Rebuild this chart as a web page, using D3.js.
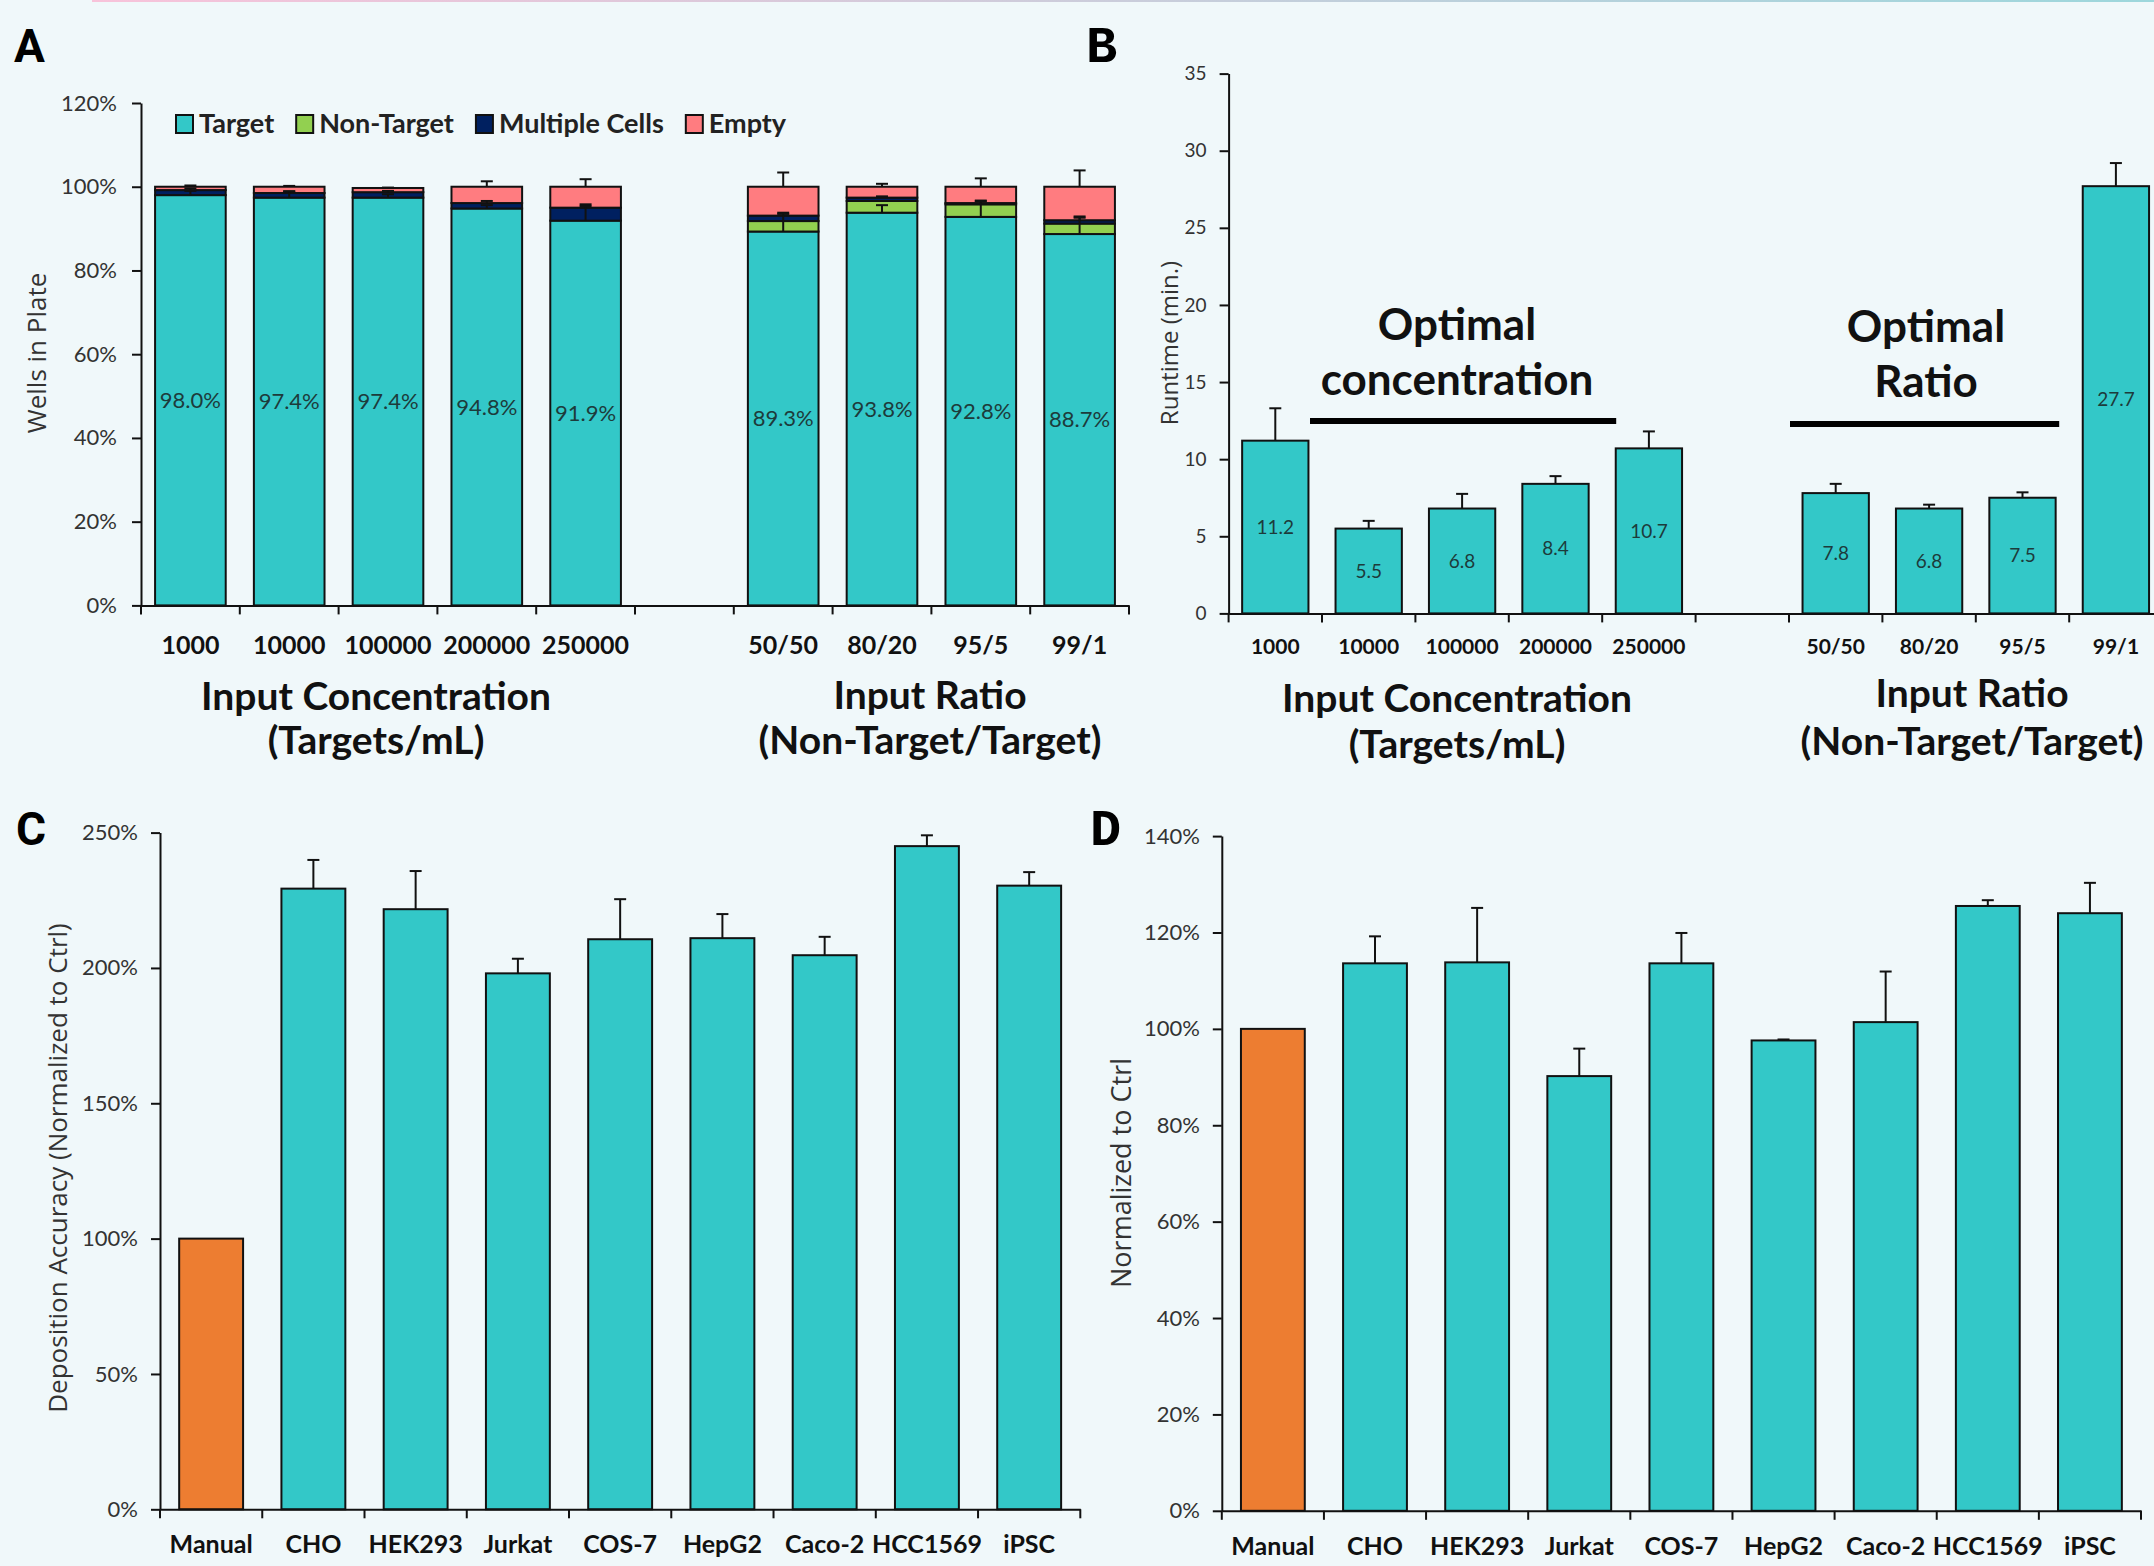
<!DOCTYPE html>
<html lang="en">
<head>
<meta charset="utf-8">
<script src="https://d3js.org/d3.v7.min.js"></script>
<title>Cell deposition panels</title>
<style>
  body { margin: 0; padding: 0; background: #f0f8fa; }
  svg { display: block; }
  text { font-family: Lato, "Open Sans", sans-serif; }
  .axis path, .axis line { stroke: #111; stroke-width: 2; }
  .axis text { font-family: Lato, "Open Sans", sans-serif; }
  .ytitle { font-family: "Open Sans", sans-serif; fill: #333; }
</style>
</head>
<body>
<svg id="chart" width="2154" height="1566"></svg>
<script>
// ---------- data ----------
var concLabels  = ["1000", "10000", "100000", "200000", "250000"];
var ratioLabels = ["50/50", "80/20", "95/5", "99/1"];

// panel A (% of wells), concentration bars then ratio bars
var targetPct    = [98.0, 97.4, 97.4, 94.8, 91.9, 89.3, 93.8, 92.8, 88.7];
var nonTargetPct = [0, 0, 0, 0, 0, 2.5, 2.8, 3.0, 2.5];
var multiplePct  = [1.2, 1.1, 1.3, 1.3, 3.1, 1.3, 0.8, 0.3, 0.8];
var emptyPct     = [0.8, 1.5, 1.0, 3.9, 5.0, 6.9, 2.6, 3.9, 8.0];
var targetErr    = [1.0, 1.5, 0.8, 0.8, 3.5, 4.5, 1.8, 3.9, 4.2];
var multipleErr  = [0.4, 0.4, 0.3, 0.5, 0.8, 0.4, 0.3, 0.4, 0.6];
var emptyErr     = [0.3, 0.2, 0.1, 1.3, 1.8, 3.4, 0.7, 2.0, 3.9];

// panel B runtime (min.)
var runtime    = [11.2, 5.5, 6.8, 8.4, 10.7, 7.8, 6.8, 7.5, 27.7];
var runtimeErr = [2.1, 0.5, 0.95, 0.5, 1.1, 0.6, 0.25, 0.35, 1.5];

// panels C and D
var cellLines     = ["Manual", "CHO", "HEK293", "Jurkat", "COS-7", "HepG2", "Caco-2", "HCC1569", "iPSC"];
var accuracy      = [100, 229.3, 221.7, 198.0, 210.6, 211.0, 204.7, 245.0, 230.4];
var accuracyErr   = [0, 10.6, 14.1, 5.4, 14.8, 8.9, 6.8, 4.0, 5.0];
var normalized    = [100, 113.6, 113.8, 90.2, 113.6, 97.6, 101.4, 125.5, 124.0];
var normalizedErr = [0, 5.6, 11.3, 5.7, 6.3, 0.2, 10.5, 1.2, 6.3];

var ticksA = [0, 20, 40, 60, 80, 100, 120];
var ticksB = [0, 5, 10, 15, 20, 25, 30, 35];
var ticksC = [0, 50, 100, 150, 200, 250];
var ticksD = [0, 20, 40, 60, 80, 100, 120, 140];

var teal = "#33c8c8", orange = "#ed7d31";
var segColors = { target: teal, nonTarget: "#92d050", multiple: "#002060", empty: "#ff7c80" };
var legendNames = { target: "Target", nonTarget: "Non-Target", multiple: "Multiple Cells", empty: "Empty" };

var pct = function (d) { return d + "%"; };

// ---------- svg ----------
var svg = d3.select("#chart");

// thin ribbon at the top edge
var grad = svg.append("defs").append("linearGradient").attr("id", "ribbon");
grad.append("stop").attr("offset", "0%").attr("stop-color", "#f8c3da");
grad.append("stop").attr("offset", "100%").attr("stop-color", "#9dd7dc");
svg.append("rect").attr("x", 92).attr("y", 0).attr("width", 2062).attr("height", 2).attr("fill", "url(#ribbon)");

function drawAxes(g, slot, y, ticks, fmt, o) {
    var yAxis = g.append("g").attr("class", "axis")
        .attr("transform", "translate(" + slot.range()[0] + ",0)")
        .call(d3.axisLeft(y).tickValues(ticks).tickFormat(fmt)
            .tickSizeInner(9).tickSizeOuter(0).tickPadding(o.yPad));
    yAxis.selectAll("text").style("font-size", o.yFont + "px").attr("fill", "#333");

    var xAxis = g.append("g").attr("class", "axis")
        .attr("transform", "translate(0," + y(0) + ")")
        .call(d3.axisBottom(slot).tickSizeInner(0).tickSizeOuter(0)
            .tickFormat(function (d) { return d === "gap" ? "" : d; }));
    xAxis.selectAll("text").attr("y", o.xLabelY).attr("dy", null)
        .style("font-size", o.xFont + "px").style("font-weight", "bold").attr("fill", "#111");

    // tick marks sit on the category boundaries
    var edges = slot.domain().map(function (c) { return slot(c); }).concat([slot.range()[1]]);
    xAxis.selectAll("line.edge").data(edges).enter().append("line")
        .attr("class", "edge")
        .attr("x1", function (d) { return d; }).attr("x2", function (d) { return d; })
        .attr("y1", 0).attr("y2", 9);
}

function errorBars(g, list) {
    // list: {cx, y0, y1}
    var eb = g.append("g").attr("stroke", "#111").attr("stroke-width", 2);
    eb.selectAll("line.v").data(list).enter().append("line")
        .attr("x1", function (d) { return d.cx; }).attr("x2", function (d) { return d.cx; })
        .attr("y1", function (d) { return d.y0; }).attr("y2", function (d) { return d.y1; });
    eb.selectAll("line.h").data(list).enter().append("line")
        .attr("x1", function (d) { return d.cx - 6; }).attr("x2", function (d) { return d.cx + 6; })
        .attr("y1", function (d) { return d.y1; }).attr("y2", function (d) { return d.y1; });
}

function panelLetter(txt, x, y, family, size) {
    svg.append("text").attr("x", x).attr("y", y).text(txt)
        .style("font-family", family).style("font-weight", "bold")
        .style("font-size", size + "px").attr("fill", "#000");
}

function yTitle(txt, cx, cy, size) {
    svg.append("text").attr("class", "ytitle")
        .attr("transform", "translate(" + cx + "," + cy + ") rotate(-90)")
        .attr("text-anchor", "middle").attr("dominant-baseline", "central")
        .style("font-size", size + "px").text(txt);
}

function bigTitle(lines, cx, ys, size) {
    lines.forEach(function (t, i) {
        svg.append("text").attr("x", cx).attr("y", ys[i]).attr("text-anchor", "middle")
            .style("font-size", size + "px").style("font-weight", "bold").attr("fill", "#111").text(t);
    });
}

// ---------- panel A ----------
(function () {
    var cats = concLabels.concat(ratioLabels);
    var rows = cats.map(function (c, i) {
        return { cat: c, target: targetPct[i], nonTarget: nonTargetPct[i], multiple: multiplePct[i], empty: emptyPct[i],
                 tErr: targetErr[i], mErr: multipleErr[i], eErr: emptyErr[i] };
    });
    var keys = ["target", "nonTarget", "multiple", "empty"];
    var slot = d3.scaleBand().domain(concLabels.concat(["gap"], ratioLabels)).range([141, 1129]);
    var y = d3.scaleLinear().domain([0, 120]).range([605.4, 103]);
    var frac = 0.715, bw = slot.bandwidth() * frac;
    var cx = function (c) { return slot(c) + slot.bandwidth() / 2; };
    var g = svg.append("g");

    var stack = d3.stack().keys(keys)(rows);
    g.selectAll("g.series").data(stack).enter().append("g")
        .attr("fill", function (s) { return segColors[s.key]; })
        .attr("stroke", "#111").attr("stroke-width", 2)
        .selectAll("rect").data(function (s) { return s.filter(function (d) { return d[1] > d[0]; }); })
        .enter().append("rect")
        .attr("x", function (d) { return cx(d.data.cat) - bw / 2; })
        .attr("width", bw)
        .attr("y", function (d) { return y(d[1]); })
        .attr("height", function (d) { return y(d[0]) - y(d[1]); });

    var errs = [];
    rows.forEach(function (r) {
        var t = r.target, m = r.target + r.nonTarget + r.multiple, e = m + r.empty;
        errs.push({ cx: cx(r.cat), y0: y(t), y1: y(t + r.tErr) });
        errs.push({ cx: cx(r.cat), y0: y(m), y1: y(m + r.mErr) });
        errs.push({ cx: cx(r.cat), y0: y(e), y1: y(e + r.eErr) });
    });
    errorBars(g, errs);

    g.selectAll("text.lbl").data(rows).enter().append("text")
        .attr("x", function (d) { return cx(d.cat); })
        .attr("y", function (d) { return y(d.target / 2); })
        .attr("dy", "0.35em").attr("text-anchor", "middle")
        .style("font-size", "22px").attr("fill", "#1d3b3b")
        .text(function (d) { return d.target.toFixed(1) + "%"; });

    drawAxes(g, slot, y, ticksA, pct, { yPad: 15, yFont: 22, xFont: 25, xLabelY: 49 });

    // legend
    var lx = 176;
    keys.forEach(function (k) {
        g.append("rect").attr("x", lx).attr("y", 115).attr("width", 17).attr("height", 18)
            .attr("fill", segColors[k]).attr("stroke", "#111").attr("stroke-width", 2);
        var t = g.append("text").attr("x", lx + 23).attr("y", 133)
            .style("font-size", "27px").style("font-weight", "bold").attr("fill", "#222")
            .text(legendNames[k]);
        lx += 23 + t.node().getComputedTextLength() + 22;
    });

    yTitle("Wells in Plate", 36, 353, 26);
    bigTitle(["Input Concentration", "(Targets/mL)"], 376, [710, 754], 39);
    bigTitle(["Input Ratio", "(Non-Target/Target)"], 930, [709, 754], 39);
    panelLetter("A", 14, 62, "Roboto, 'Liberation Sans', sans-serif", 46);
})();

// ---------- panel B ----------
(function () {
    var cats = concLabels.concat(ratioLabels);
    var rows = cats.map(function (c, i) { return { cat: c, v: runtime[i], err: runtimeErr[i] }; });
    var slot = d3.scaleBand().domain(concLabels.concat(["gap"], ratioLabels)).range([1228.6, 2162.6]);
    var y = d3.scaleLinear().domain([0, 35]).range([613.4, 73.6]);
    var frac = 0.71, bw = slot.bandwidth() * frac;
    var cx = function (c) { return slot(c) + slot.bandwidth() / 2; };
    var g = svg.append("g");

    g.selectAll("rect.bar").data(rows).enter().append("rect")
        .attr("x", function (d) { return cx(d.cat) - bw / 2; }).attr("width", bw)
        .attr("y", function (d) { return y(d.v); })
        .attr("height", function (d) { return y(0) - y(d.v); })
        .attr("fill", teal).attr("stroke", "#111").attr("stroke-width", 2);

    errorBars(g, rows.map(function (d) { return { cx: cx(d.cat), y0: y(d.v), y1: y(d.v + d.err) }; }));

    g.selectAll("text.lbl").data(rows).enter().append("text")
        .attr("x", function (d) { return cx(d.cat); })
        .attr("y", function (d) { return y(d.v / 2); })
        .attr("dy", "0.35em").attr("text-anchor", "middle")
        .style("font-size", "19px").attr("fill", "#1d3b3b")
        .text(function (d) { return d.v.toFixed(1); });

    drawAxes(g, slot, y, ticksB, function (d) { return d; }, { yPad: 13, yFont: 19, xFont: 21, xLabelY: 41 });

    // "optimal" callouts
    g.append("line").attr("x1", slot("10000") - 12).attr("x2", slot("250000") + 14)
        .attr("y1", 421).attr("y2", 421).attr("stroke", "#000").attr("stroke-width", 6);
    g.append("line").attr("x1", slot("50/50") + 1).attr("x2", slot("99/1") - 10)
        .attr("y1", 424).attr("y2", 424).attr("stroke", "#000").attr("stroke-width", 6);
    bigTitle(["Optimal", "concentration"], 1457, [340, 395], 44);
    bigTitle(["Optimal", "Ratio"], 1926, [342, 397], 44);

    yTitle("Runtime (min.)", 1168, 343, 24);
    bigTitle(["Input Concentration", "(Targets/mL)"], 1457, [712, 758], 39);
    bigTitle(["Input Ratio", "(Non-Target/Target)"], 1972, [707, 755], 39);
    panelLetter("B", 1086, 62, "'Liberation Mono', 'DejaVu Sans Mono', monospace", 52);
})();

// ---------- panels C and D ----------
function cellPanel(vals, errs, xr, yd, yr, ticks, title, tcx, tcy, tsize) {
    var rows = cellLines.map(function (c, i) { return { cat: c, v: vals[i], err: errs[i] }; });
    var slot = d3.scaleBand().domain(cellLines).range(xr);
    var y = d3.scaleLinear().domain(yd).range(yr);
    var frac = 0.625, bw = slot.bandwidth() * frac;
    var cx = function (c) { return slot(c) + slot.bandwidth() / 2; };
    var g = svg.append("g");

    g.selectAll("rect.bar").data(rows).enter().append("rect")
        .attr("x", function (d) { return cx(d.cat) - bw / 2; }).attr("width", bw)
        .attr("y", function (d) { return y(d.v); })
        .attr("height", function (d) { return y(0) - y(d.v); })
        .attr("fill", function (d, i) { return i === 0 ? orange : teal; })
        .attr("stroke", "#111").attr("stroke-width", 2);

    errorBars(g, rows.filter(function (d) { return d.err > 0; })
        .map(function (d) { return { cx: cx(d.cat), y0: y(d.v), y1: y(d.v + d.err) }; }));

    drawAxes(g, slot, y, ticks, pct, { yPad: 13, yFont: 22, xFont: 25, xLabelY: 44 });
    yTitle(title, tcx, tcy, tsize);
}

cellPanel(accuracy, accuracyErr, [160, 1080.3], [0, 250], [1509.3, 832.6], ticksC,
    "Deposition Accuracy (Normalized to Ctrl)", 57, 1168, 26);
panelLetter("C", 16, 845, "Roboto, 'Liberation Sans', sans-serif", 46);

cellPanel(normalized, normalizedErr, [1221.8, 2141], [0, 140], [1510.8, 836.1], ticksD,
    "Normalized to Ctrl", 1120, 1173, 27);
panelLetter("D", 1090, 845, "'Liberation Mono', 'DejaVu Sans Mono', monospace", 52);
</script>
</body>
</html>
